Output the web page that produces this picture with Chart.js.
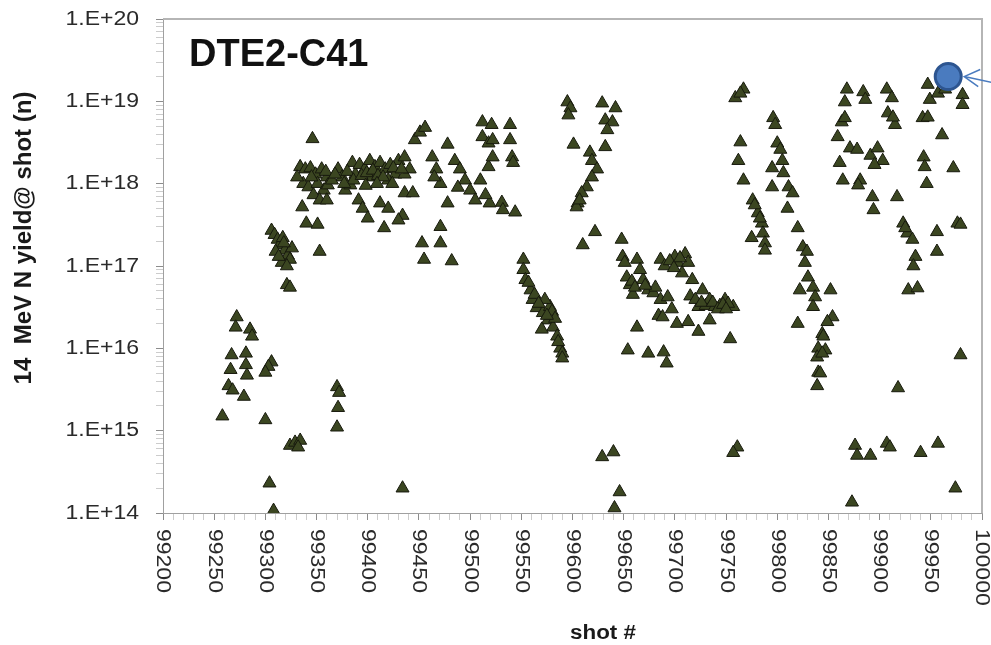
<!DOCTYPE html>
<html>
<head>
<meta charset="utf-8">
<title>DTE2-C41</title>
<script src="https://cdn.jsdelivr.net/npm/chart.js@4.4.1/dist/chart.umd.min.js"></script>
<style>
    html, body { margin: 0; padding: 0; background: #fff; }
    #canvasContainer { width: 991px; height: 645px; }
</style>
</head>
<body>
<div id="canvasContainer"><canvas id="chart" width="991" height="645"></canvas></div>
<script>
const chartTitle = 'DTE2-C41';
const xAxisTitle = 'shot #';
const yAxisTitle = '14  MeV N yield@ shot (n)';

const xTickValues = [99200, 99250, 99300, 99350, 99400, 99450, 99500, 99550,
    99600, 99650, 99700, 99750, 99800, 99850, 99900, 99950, 100000];
const yTickExponents = [14, 15, 16, 17, 18, 19, 20];

// highlighted shot (blue circle + arrow)
const markedShot = 99967;
const markedYield = 2e19;

// shot numbers and neutron yields
const shots = [
    // 99250 - 99360
    99346, 99334, 99339, 99344, 99349, 99355, 99360, 99337, 99342, 99351, 99357, 99347, 99336, 99353,
    99340, 99351, 99353, 99306, 99309, 99312, 99314, 99317, 99319, 99322, 99324, 99310, 99316, 99321,
    99326, 99321, 99324, 99272, 99271, 99285, 99287, 99267, 99281, 99281, 99306, 99303, 99266, 99282,
    99300, 99264, 99268, 99279, 99258, 99300, 99324, 99329, 99334, 99332, 99304, 99308,
    99318, 99313, 99345, 99331,
    // 99360 - 99545
    99359, 99361, 99360, 99371, 99375, 99378, 99383, 99388, 99391, 99385, 99392, 99397, 99402, 99407,
    99412, 99417, 99422, 99427, 99430, 99404, 99420, 99395, 99400, 99416, 99412, 99420, 99434, 99430,
    99446, 99451, 99456, 99436, 99436, 99436, 99444, 99441, 99463, 99467, 99471, 99465, 99478, 99453,
    99455, 99471, 99471, 99482, 99478, 99485, 99490, 99495, 99500, 99505, 99488, 99512, 99521, 99512,
    99518, 99518, 99519, 99522, 99539, 99539, 99522, 99541, 99542, 99531, 99532, 99544, 99510, 99515,
    99365, 99368, 99380, 99386, 99394, 99399, 99405, 99410, 99415, 99425, 99377, 99398, 99409, 99424,
    99433,
    99370, 99372, 99371, 99370, 99434,
    // 99550 - 99590
    99552, 99552, 99554, 99559, 99561, 99565, 99571, 99578, 99576, 99581, 99585, 99588, 99590, 99590,
    99570, 99557, 99563, 99573, 99580, 99583, 99567, 99575, 99586,
    // 99595 - 99645
    99595, 99598, 99596, 99601, 99629, 99642, 99632, 99639, 99634, 99632, 99617, 99619, 99624, 99619,
    99614, 99609, 99605, 99604, 99607, 99622, 99610, 99629, 99640, 99646, 99641,
    // 99645 - 99760
    99648, 99649, 99663, 99653, 99656, 99669, 99674, 99679, 99663, 99654, 99674, 99651, 99666, 99659,
    99686, 99703, 99710, 99707, 99700, 99713, 99681, 99686, 99693, 99697, 99684, 99717, 99727, 99723,
    99730, 99739, 99749, 99757, 99734, 99744, 99752, 99688, 99702, 99713, 99723, 99734, 99689, 99692,
    99754, 99715, 99720,
    99658, 99661, 99671, 99690, 99695, 99699, 99705, 99726, 99737, 99742, 99747, 99750,
    // 99755 - 99855
    99759, 99767, 99764, 99764, 99762, 99767, 99796, 99800, 99805, 99806, 99811, 99815, 99795, 99795,
    99810, 99798, 99803, 99776, 99781, 99785, 99786, 99788, 99788, 99775, 99778, 99783, 99820, 99825,
    99829, 99830, 99835, 99837, 99835, 99822, 99820, 99827, 99844, 99840, 99839, 99840, 99839, 99852,
    99854, 99849, 99845, 99847, 99844, 99842, 99761, 99757,
    // 99855 - 99985
    99868, 99866, 99863, 99859, 99861, 99864, 99866, 99871, 99878, 99881, 99879, 99884, 99886, 99893,
    99894, 99891, 99898, 99903, 99895, 99907, 99912, 99908, 99915, 99913, 99917, 99923, 99927, 99932,
    99935, 99933, 99925, 99928, 99937, 99947, 99949, 99957, 99942, 99947, 99961, 99964, 99943, 99944,
    99946, 99956, 99956, 99972, 99976, 99979, 99981, 99981, 99979, 99918, 99876, 99878, 99891, 99907,
    99910, 99940, 99957, 99974, 99873
];

const yields = [
    // 99250 - 99360
    3.5e18, 1.6e18, 1.5e18, 1.55e18, 1.3e18, 1.5e18, 1.2e18, 1.0e18, 9.1e17, 1.0e18, 8.3e17, 7.3e17, 5.2e17, 6.3e17,
    3.3e17, 3.2e17, 1.5e17, 2.7e17, 2.4e17, 2.1e17, 1.8e17, 2.2e17, 1.55e17, 1.35e17, 1.2e17, 1.5e17, 1.1e17, 1.0e17,
    1.65e17, 5.9e16, 5.5e16, 2.4e16, 1.8e16, 1.7e16, 1.4e16, 8.3e15, 8.7e15, 6.3e15, 6.8e15, 6.0e15, 5.5e15, 4.7e15,
    5.1e15, 3.5e15, 3.1e15, 2.6e15, 1.5e15, 1.35e15, 6.6e14, 7.2e14, 7.6e14, 6.3e14, 2.3e14, 1.07e14,
    1.9e17, 1.3e17, 1.2e18, 1.2e18,
    // 99360 - 99545
    1.4e18, 9.6e17, 6.3e17, 1.5e18, 1.2e18, 8.3e17, 9.6e17, 1.3e18, 6.3e17, 1.8e18, 1.7e18, 1.5e18, 1.9e18, 1.6e18,
    1.8e18, 1.5e18, 1.7e18, 1.3e18, 1.9e18, 1.2e18, 1.1e18, 5.0e17, 3.8e17, 2.9e17, 5.8e17, 5.0e17, 4.1e17, 3.6e17,
    3.4e18, 4.2e18, 4.8e18, 2.1e18, 1.3e18, 7.7e17, 7.7e17, 1.5e18, 2.1e18, 1.5e18, 1.0e18, 1.2e18, 3.0e18, 1.9e17,
    1.2e17, 3.0e17, 1.9e17, 1.15e17, 5.8e17, 1.9e18, 1.5e18, 1.1e18, 8.3e17, 6.3e17, 9.0e17, 5.6e18, 5.2e18, 3.7e18,
    3.1e18, 1.6e18, 5.8e17, 3.4e18, 5.2e18, 3.4e18, 2.1e18, 2.1e18, 1.8e18, 5.9e17, 4.8e17, 4.5e17, 1.1e18, 7.3e17,
    1.1e18, 1.3e18, 1.4e18, 1.1e18, 1.25e18, 1.35e18, 1.45e18, 1.25e18, 1.2e18, 1.55e18, 1.0e18, 9.5e17, 1.0e18, 1.0e18,
    1.5e18,
    3.4e15, 2.9e15, 1.9e15, 1.1e15, 2.0e14,
    // 99550 - 99590
    1.2e17, 9.0e16, 6.8e16, 5.1e16, 3.9e16, 3.1e16, 2.7e16, 3.2e16, 2.2e16, 1.8e16, 1.4e16, 1.0e16, 8.7e15, 7.6e15,
    1.7e16, 6.3e16, 4.5e16, 3.9e16, 2.8e16, 2.3e16, 3.5e16, 2.5e16, 1.2e16,
    // 99595 - 99645
    9.8e18, 8.3e18, 6.8e18, 3.0e18, 9.5e18, 8.3e18, 5.9e18, 5.6e18, 4.5e18, 2.8e18, 2.4e18, 1.9e18, 1.5e18, 1.2e18,
    9.1e17, 7.7e17, 5.8e17, 5.2e17, 6.3e17, 2.6e17, 1.8e17, 4.8e14, 5.5e14, 1.8e14, 1.15e14,
    // 99645 - 99760
    2.1e17, 1.3e17, 1.2e17, 7.3e16, 5.9e16, 6.8e16, 5.1e16, 4.7e16, 1.8e16, 9.5e15, 8.7e15, 1.1e17, 9.0e16, 4.5e16,
    1.2e17, 1.1e17, 1.4e17, 8.2e16, 1.3e17, 1.1e17, 5.5e16, 3.9e16, 4.2e16, 3.0e16, 2.5e16, 6.8e16, 5.1e16, 3.2e16,
    3.3e16, 3.2e16, 3.9e16, 3.2e16, 3.9e16, 3.3e16, 3.5e16, 2.4e16, 2.0e16, 2.1e16, 1.6e16, 2.2e16, 9.0e15, 6.6e15,
    1.3e16, 4.3e16, 3.9e16,
    6.5e16, 5.5e16, 5.8e16, 1.0e17, 1.15e17, 9.5e16, 1.25e17, 3.6e16, 3.6e16, 3.0e16, 3.4e16, 3.0e16,
    // 99755 - 99855
    1.1e19, 1.4e19, 1.25e19, 3.2e18, 1.9e18, 1.1e18, 6.3e18, 3.1e18, 1.9e18, 1.35e18, 9.1e17, 7.7e17, 1.55e18, 9.1e17,
    5.0e17, 5.2e18, 2.6e18, 6.3e17, 4.4e17, 3.3e17, 2.5e17, 1.9e17, 1.55e17, 2.2e17, 5.5e17, 3.8e17, 2.9e17, 1.7e17,
    1.5e17, 7.3e16, 5.5e16, 4.2e16, 3.2e16, 5.1e16, 2.0e16, 1.1e17, 1.5e16, 1.0e16, 7.8e15, 5.1e15, 3.5e15, 5.1e16,
    2.4e16, 2.1e16, 1.4e16, 9.5e15, 8.7e15, 5.0e15, 6.3e14, 5.4e14,
    // 99855 - 99985
    1.4e19, 9.8e18, 5.6e18, 3.7e18, 1.8e18, 1.1e18, 6.3e18, 2.7e18, 2.6e18, 1.1e18, 9.6e17, 1.3e19, 1.05e19, 6.9e17,
    4.8e17, 2.2e18, 2.7e18, 1.9e18, 1.7e18, 1.4e19, 1.1e19, 7.2e18, 5.2e18, 6.4e18, 6.9e17, 3.3e17, 2.5e17, 2.1e17,
    1.3e17, 1.0e17, 2.9e17, 5.1e16, 5.4e16, 1.6e19, 1.05e19, 1.25e19, 6.3e18, 6.4e18, 3.9e18, 1.4e19, 2.1e18, 1.6e18,
    1.0e18, 2.6e17, 1.5e17, 1.55e18, 3.3e17, 3.2e17, 1.2e19, 9.1e18, 8.3e15, 3.3e15, 6.6e14, 5.0e14, 5.0e14, 7.0e14,
    6.3e14, 5.4e14, 7.0e14, 2.0e14, 1.35e14
];

const points = shots.map((s, i) => ({ x: s, y: yields[i] }));

const overlay = {
    id: 'overlay',
    beforeDatasetsDraw(chart) {
        const { ctx, chartArea: a } = chart;
        ctx.save();
        ctx.strokeStyle = '#b5b5b5';
        ctx.lineWidth = 2;
        ctx.beginPath();
        ctx.moveTo(a.left, a.top);
        ctx.lineTo(a.right, a.top);
        ctx.lineTo(a.right, a.bottom);
        ctx.stroke();
        ctx.restore();
    },
    afterDraw(chart) {
        const { ctx, chartArea: a } = chart;
        const x = chart.scales.x;
        const y = chart.scales.y;
        ctx.save();
        ctx.fillStyle = '#2a2a2a';

        // y tick labels
        ctx.font = '20px "Liberation Sans", Arial, sans-serif';
        ctx.textAlign = 'right';
        ctx.textBaseline = 'middle';
        yTickExponents.forEach(e => {
            ctx.save();
            ctx.translate(a.left - 24, y.getPixelForValue(Math.pow(10, e)));
            ctx.scale(1.15, 1);
            ctx.fillText('1.E+' + e, 0, 0);
            ctx.restore();
        });

        // x tick labels, turned clockwise
        ctx.textAlign = 'left';
        xTickValues.forEach(v => {
            ctx.save();
            ctx.translate(x.getPixelForValue(v), a.bottom + 16);
            ctx.rotate(Math.PI / 2);
            ctx.scale(1.15, 1);
            ctx.fillText(String(v), 0, 0);
            ctx.restore();
        });

        // axis titles
        ctx.fillStyle = '#1a1a1a';
        ctx.font = 'bold 20px "Liberation Sans", Arial, sans-serif';
        ctx.textAlign = 'center';
        ctx.textBaseline = 'alphabetic';
        ctx.save();
        ctx.translate(603, 639);
        ctx.scale(1.12, 1);
        ctx.fillText(xAxisTitle, 0, 0);
        ctx.restore();

        ctx.save();
        ctx.font = 'bold 24px "Liberation Sans", Arial, sans-serif';
        ctx.translate(24, 238);
        ctx.rotate(-Math.PI / 2);
        ctx.textBaseline = 'middle';
        ctx.fillText(yAxisTitle, 0, 0);
        ctx.restore();

        // chart title
        ctx.fillStyle = '#111';
        ctx.font = 'bold 38px "Liberation Sans", Arial, sans-serif';
        ctx.textAlign = 'left';
        ctx.fillText(chartTitle, 189, 66);

        // marked shot
        const cx = x.getPixelForValue(markedShot);
        const cy = y.getPixelForValue(markedYield);
        ctx.beginPath();
        ctx.arc(cx, cy, 13, 0, Math.PI * 2);
        ctx.fillStyle = '#4a7bbf';
        ctx.fill();
        ctx.lineWidth = 3;
        ctx.strokeStyle = '#2d5590';
        ctx.stroke();

        const tipX = cx + 16;
        ctx.strokeStyle = '#4a7bbf';
        ctx.lineWidth = 1.5;
        ctx.beginPath();
        ctx.moveTo(992, cy + 6);
        ctx.lineTo(tipX, cy);
        ctx.moveTo(tipX + 16, cy - 7);
        ctx.lineTo(tipX, cy);
        ctx.lineTo(tipX + 14, cy + 10);
        ctx.stroke();
        ctx.restore();
    }
};

const tickShade = (major) => major ? '#8c8c8c' : '#cccccc';

const chart = new Chart(document.getElementById('chart'), {
    type: 'scatter',
    data: {
        datasets: [{
            data: points,
            pointStyle: 'triangle',
            pointRadius: 7.5,
            backgroundColor: '#3b4621',
            borderColor: '#17190d',
            borderWidth: 1
        }]
    },
    options: {
        responsive: false,
        animation: false,
        devicePixelRatio: 1,
        layout: { padding: { top: 19, right: 9, left: 0, bottom: 0 } },
        plugins: { legend: { display: false }, tooltip: { enabled: false } },
        scales: {
            x: {
                type: 'linear',
                min: 99200,
                max: 100000,
                ticks: { display: false, stepSize: 10, maxTicksLimit: 200 },
                grid: {
                    drawOnChartArea: false,
                    tickLength: 7,
                    tickColor: c => tickShade(c.tick && c.tick.value % 50 === 0)
                },
                border: { color: '#a0a0a0', width: 1 },
                afterFit: s => { s.height = 132; }
            },
            y: {
                type: 'logarithmic',
                min: 1e14,
                max: 1e20,
                ticks: { display: false },
                afterBuildTicks: s => {
                    const t = [];
                    yTickExponents.forEach(e => {
                        for (let m = 1; m <= 9; m++) {
                            if (e === 20 && m > 1) break;
                            t.push({ value: m * Math.pow(10, e), major: m === 1 });
                        }
                    });
                    s.ticks = t;
                },
                grid: {
                    drawOnChartArea: false,
                    tickLength: 7,
                    tickColor: c => tickShade(c.tick && c.tick.major)
                },
                border: { color: '#a0a0a0', width: 1 },
                afterFit: s => { s.width = 163; }
            }
        }
    },
    plugins: [overlay]
});
</script>
</body>
</html>
